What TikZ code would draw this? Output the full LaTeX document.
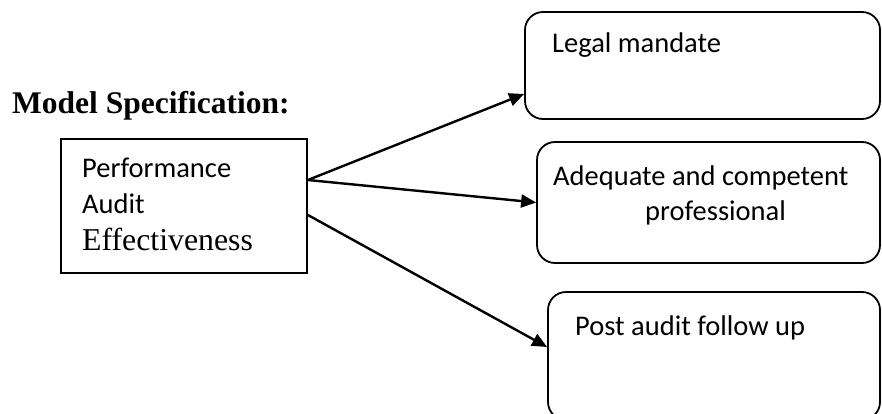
\documentclass[tikz,border=0pt]{standalone}
\usepackage{fontspec}
\setmainfont{Carlito}
\newfontfamily\timesfont{Liberation Serif}
\usetikzlibrary{arrows.meta}
\tikzset{
  boxline/.style={draw=black, line width=1.8pt, inner sep=0pt},
  sqbox/.style={boxline, rectangle},
  rbox/.style={boxline, rectangle, rounded corners=18pt},
  lbl/.style={anchor=base west, inner sep=0pt, font=\fontsize{28.5}{34}\selectfont},
  conn/.style={line width=2.4pt, -{Triangle[length=15pt,width=13pt]}}
}
\begin{document}
\begin{tikzpicture}[x=1pt,y=1pt]
\useasboundingbox (0,0) rectangle (882,413);
\clip (0,0) rectangle (882,413);
\node[anchor=base west, inner sep=0pt, font=\timesfont\bfseries\fontsize{31.5}{36}\selectfont] (title) at (12,299) {Model Specification:};
\node[sqbox, minimum width=246pt, minimum height=134pt] (L) at (184,207) {};
\node[lbl] (t1) at (82,236) {Performance};
\node[lbl] (t2) at (82,200) {Audit};
\node[lbl, font=\timesfont\fontsize{31.8}{36}\selectfont] (t3) at (82,163) {Effectiveness};
\node[rbox, minimum width=355pt, minimum height=107pt] (B1) at (702.5,347.5) {};
\node[rbox, minimum width=343pt, minimum height=121pt] (B2) at (708.5,210.5) {};
\node[rbox, minimum width=332pt, minimum height=128pt] (B3) at (714,57) {};
\node[lbl] (b1) at (552,360) {Legal mandate};
\node[lbl] (b2a) at (553,228) {Adequate and competent};
\node[lbl] (b2b) at (645,193) {professional};
\node[lbl] (b3) at (575,78) {Post audit follow up};
\draw[conn] ([yshift=26pt]L.east) -- ([yshift=-28.5pt]B1.west);
\draw[conn] ([yshift=26pt]L.east) -- (B2.west);
\draw[conn] ([yshift=-9pt]L.east) -- ([yshift=9pt]B3.west);
\end{tikzpicture}
\end{document}
